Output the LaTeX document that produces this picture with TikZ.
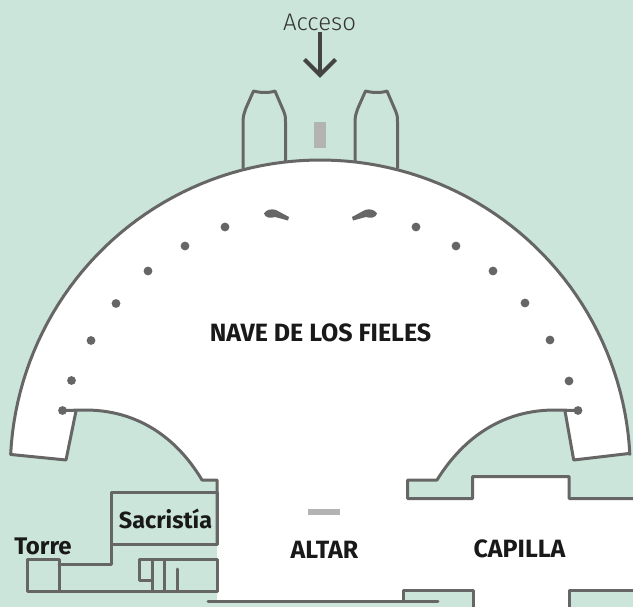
\documentclass[tikz,border=0pt]{standalone}
\usepackage{fontspec}
\setmainfont{Fira Sans}
\newfontfamily\lightfont{Fira Sans Light}
\definecolor{bggreen}{HTML}{CCE5DA}
\definecolor{wall}{HTML}{666666}
\definecolor{graybar}{HTML}{B3B3B3}
\definecolor{arrowgray}{HTML}{444444}
\tikzset{
  wallline/.style={draw=wall,line width=3pt,line join=round,line cap=round},
  pillar/.style={fill=wall},
  bar/.style={fill=graybar},
  lab/.style={font=\fontsize{25}{25}\selectfont\bfseries,text=black!90,inner sep=0pt},
}
\begin{document}
\begin{tikzpicture}[x=1pt,y=-1pt]
\useasboundingbox (0,0) rectangle (633,607);
\fill[bggreen] (0,0) rectangle (633,607);
% white floor
\fill[white] (11,454.5) -- plot[domain=177.1:2.9,samples=90] ({320.25+310*cos(\x)},{470-310*sin(\x)})
  -- (629,453.5) -- (573.7,460) -- (565,411) -- (555,410) .. controls (505,410) and (465,435) .. (437,480)
  -- (407.5,480) -- (407.5,498.5) -- (472.5,498.5) -- (472.5,476.5) -- (569,476.5) -- (569,498.5) -- (640,498.5)
  -- (640,590) -- (569,590) -- (569,610) -- (473,610) -- (473,590) -- (403.5,590) -- (403.5,601) -- (217,601) -- (217,480) -- (202,480)
  .. controls (175,435) and (135,410) .. (85,410)
  -- (76,411) -- (66,460) -- cycle;
% outer wall
\draw[wallline] (76,411) -- (66,460) -- (11,454.5) -- plot[domain=177.1:2.9,samples=90] ({320.25+310*cos(\x)},{470-310*sin(\x)})
  -- (629,453.5) -- (573.7,460) -- (565,411);
% inner arcs
\draw[wallline] (62.5,410.5) -- (85,410) .. controls (135,410) and (175,435) .. (202,480) -- (217,480) -- (217,544);
\draw[wallline] (578,410.5) -- (555,410) .. controls (505,410) and (465,435) .. (437,480) -- (407.5,480) -- (407.5,498.5) -- (472.5,498.5) -- (472.5,476.5) -- (569,476.5) -- (569,498.5) -- (633,498.5);
\draw[wallline] (633,590) -- (569,590) -- (569,607);
\draw[wallline] (473,607) -- (473,590) -- (403.5,590) -- (403.5,601);
\draw[wallline] (208,601) -- (438,601);
% sacristia and tower
\draw[wallline] (111.5,492) rectangle (217,544);
\draw[wallline] (111.5,544) -- (111.5,564) -- (59,564);
\draw[wallline] (27,559) rectangle (59,591);
\draw[wallline] (59,591) -- (217,591) -- (217,559.5) -- (139,559.5) -- (139,580.5) -- (152.5,580.5);
\draw[wallline] (152.5,559.5) -- (152.5,591);
\draw[wallline] (164.5,559.5) -- (164.5,591);
\draw[wallline] (177.5,569) -- (177.5,591);
% entrance towers
\draw[wallline] (243,168) -- (243,120) .. controls (243.5,114) and (245,111) .. (246,108) -- (253.5,91) .. controls (260,93) and (270,93) .. (275,91) -- (284,112) .. controls (285.5,116) and (285.5,118) .. (285.5,122) -- (285.5,161);
\draw[wallline] (355,161) -- (355,120) .. controls (355.5,114) and (357,111) .. (358,108) -- (365.5,91) .. controls (372,93) and (382,93) .. (387,91) -- (396,112) .. controls (397.5,116) and (397.5,118) .. (397.5,122) -- (397.5,168);
% pillars
\foreach \px/\py in {62.5/410.5,71.5/380.5,91/340.5,116/303.5,148/271,185/246,225/227,578/410.5,569/381,550/340,525/303,493/271,456/246,416/227}
  \fill[pillar] (\px,\py) circle (4.4);
\fill[pillar] (264,213.5) .. controls (266,209.5) and (272,208.5) .. (276,210) -- (289,217) -- (288,220.5) -- (275,217) .. controls (271,218.5) and (265,218) .. (264,213.5) -- cycle;
\fill[pillar] (377,213.5) .. controls (375,209.5) and (369,208.5) .. (365,210) -- (352,217) -- (353,220.5) -- (366,217) .. controls (370,218.5) and (376,218) .. (377,213.5) -- cycle;
% bars
\fill[bar] (314,122) rectangle (326,148);
\fill[bar] (308,509) rectangle (340,515);
% arrow
\coordinate (arrowtop) at (320,32);
\coordinate (arrowtip) at (320,75);
\coordinate (arrowl) at (304.5,59.5);
\coordinate (arrowr) at (335.5,59.5);
\draw[arrowgray,line width=4pt] (arrowtop) -- (arrowtip);
\draw[arrowgray,line width=4pt,line join=miter] (arrowl) -- (arrowtip) -- (arrowr);
% labels
\node[font=\fontsize{24}{24}\selectfont\lightfont,text=black!80,inner sep=0pt] (acceso) at (319.5,22) {Acceso};
\node[lab] (nave) at (320.5,333) {NAVE DE LOS FIELES};
\node[lab,font=\fontsize{23.4}{24}\selectfont\bfseries] (sacristia) at (165.5,518.5) {Sacristía};
\node[lab,font=\fontsize{24}{24}\selectfont\bfseries] (torre) at (43,546) {Torre};
\node[lab] (altar) at (324.5,550) {ALTAR};
\node[lab] (capilla) at (519.5,549) {CAPILLA};
\end{tikzpicture}
\end{document}
